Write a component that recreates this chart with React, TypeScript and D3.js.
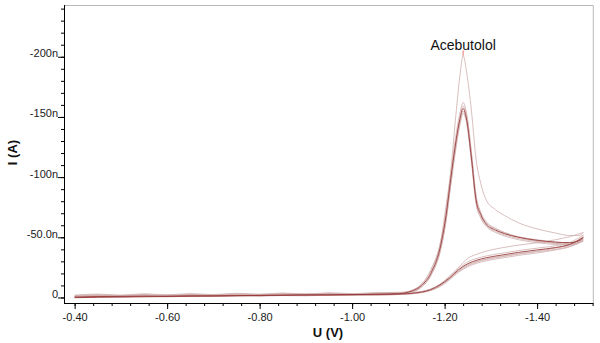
import React, { useRef, useEffect } from "react";
import * as d3 from "d3";

// potential grid (V) for the forward scan and the return scan
const forwardU = [
  -0.40, -0.45, -0.50, -0.55, -0.60, -0.65, -0.70, -0.75, -0.80, -0.85, -0.90, -0.95, -1.00, -1.05, -1.10,
  -1.13, -1.15, -1.17, -1.193, -1.203, -1.213, -1.223, -1.233, -1.240, -1.248, -1.258, -1.268, -1.278,
  -1.29, -1.31, -1.33, -1.36, -1.40, -1.44, -1.47, -1.49, -1.50,
];
const reverseU = [
  -1.50, -1.47, -1.44, -1.40, -1.36, -1.32, -1.29, -1.27, -1.25, -1.23, -1.21, -1.19, -1.17, -1.15, -1.12, -1.08,
  -1.00, -0.95, -0.90, -0.85, -0.80, -0.75, -0.70, -0.65, -0.60, -0.55, -0.50, -0.45, -0.40,
];

// currents (nA), one array per scan and per trace
const trace1Fwd = [
  -1.0, -1.9, -1.2, -2.2, -1.5, -2.3, -1.7, -2.6, -1.9, -2.8, -2.1, -3.0, -2.5, -3.3, -3.6,
  -6, -11, -23, -50, -76, -104, -146, -184, -201, -186, -155, -115, -95,
  -81, -73, -68, -62, -57, -53.5, -51.5, -51.5, -54,
];
const trace1Rev = [
  -54, -50.5, -48, -45.5, -43.5, -41, -38.5, -36, -32.5, -25, -17.5, -11, -7, -5, -3.6, -3.0,
  -2.8, -2.2, -2.9, -2.0, -2.6, -1.7, -2.3, -1.4, -2.0, -1.1, -1.7, -0.8, -1.1,
];
const trace2Fwd = [
  -0.5, -1.3, -0.6, -1.6, -0.9, -1.9, -1.1, -2.1, -1.4, -2.4, -1.7, -2.6, -2.0, -3.0, -3.4,
  -6, -11, -22, -49, -72, -102, -131, -153, -162, -152, -121, -85, -71,
  -63, -57.5, -54, -50.5, -48, -46, -45.5, -48, -52,
];
const trace2Rev = [
  -52, -45.5, -43, -41, -39, -36.5, -34.5, -32.5, -29.5, -24, -17, -11, -7, -4.8, -3.5, -2.9,
  -2.4, -3.0, -2.1, -2.7, -1.8, -2.4, -1.5, -2.1, -1.2, -1.8, -0.9, -1.4, -0.8,
];
const trace3Fwd = [
  -1.5, -2.3, -1.5, -2.5, -1.7, -2.7, -2.0, -3.0, -2.3, -3.3, -2.6, -3.5, -2.9, -3.7, -4.0,
  -5, -9.5, -19, -44, -66, -96, -126, -150, -159, -150, -119, -83, -70,
  -62, -57, -53.5, -50, -47, -45, -44.5, -46, -49,
];
const trace3Rev = [
  -49, -43.5, -41, -38.5, -36.5, -34, -32, -30, -27, -22, -15.5, -10, -6.2, -4.3, -3.0, -2.4,
  -2.0, -2.2, -1.8, -1.9, -1.5, -1.6, -1.2, -1.3, -0.9, -0.9, -0.6, -0.5, -0.5,
];
const trace4Fwd = [
  -0.3, -0.8, -0.9, -1.1, -1.0, -1.4, -1.3, -1.6, -1.7, -1.9, -2.0, -2.2, -2.4, -2.7, -3.2,
  -5.5, -10, -20, -46, -68, -98, -126, -148, -157, -147, -116, -81, -69,
  -61, -56, -53, -50, -47.5, -46, -45.5, -47, -50,
];
const trace4Rev = [
  -50, -44, -41.5, -39.5, -37.5, -35, -33, -31, -28, -23, -16, -10.5, -6.5, -4.5, -3.2, -2.6,
  -2.4, -2.1, -2.2, -1.8, -1.7, -1.4, -1.3, -1.0, -0.9, -0.6, -0.5, -0.2, 0.2,
];
const trace5Fwd = [
  -0.8, -1.5, -0.8, -1.8, -1.2, -2.0, -1.3, -2.3, -1.6, -2.5, -2.0, -2.8, -2.2, -3.1, -3.5,
  -5, -9, -18.5, -43, -64, -94, -122, -145, -155, -145, -114, -79, -67,
  -60, -55, -52, -49, -46.5, -45, -44, -45.5, -48,
];
const trace5Rev = [
  -48, -42.5, -40, -38, -36, -33.5, -31.5, -29.5, -26.5, -21.5, -15, -9.5, -6, -4.2, -2.9, -2.3,
  -1.8, -2.4, -1.6, -2.1, -1.3, -1.8, -1.0, -1.5, -0.7, -1.2, -0.4, -0.9, -0.3,
];
const trace6Fwd = [
  -2.0, -2.8, -2.0, -3.1, -2.2, -3.2, -2.4, -3.5, -2.7, -3.7, -2.9, -3.9, -3.2, -4.0, -4.3,
  -4.5, -8.5, -18, -42, -63, -92, -120, -143, -153, -144, -113, -78, -66,
  -59, -54, -51, -48, -45.5, -44, -43.5, -45, -47,
];
const trace6Rev = [
  -47, -42, -39.5, -37, -35, -32.5, -30.5, -28.5, -25.5, -21, -14.5, -9, -5.8, -4.0, -2.8, -2.2,
  -1.7, -1.9, -1.4, -1.6, -1.1, -1.3, -0.8, -1.0, -0.5, -0.7, -0.2, -0.4, -0.1,
];

const traceColors = ["#cfaeae", "#cfaeae", "#cfaeae", "#9a3a3a", "#cfaeae", "#cfaeae"];

const yTickValues = [0, -50, -100, -150, -200];
const yTickLabels = ["0", "-50.0n", "-100n", "-150n", "-200n"];
const xTickValues = [-0.4, -0.6, -0.8, -1.0, -1.2, -1.4];
const xTickLabels = ["-0.40", "-0.60", "-0.80", "-1.00", "-1.20", "-1.40"];

const peakName = "Acebutolol";
const peakU = -1.240;
const peakI = -201;

const App = () => {
  const canvas = useRef<SVGSVGElement>(null);

  useEffect(() => {
    const width = 600;
    const height = 343;
    const left = 64, right = 593.3, top = 5, bottom = 303.5;
    const font = "'Liberation Sans', Arial, sans-serif";

    const svg = d3.select(canvas.current);
    svg.selectAll("*").remove();
    svg.attr("width", width).attr("height", height);

    const x = d3.scaleLinear().domain([-0.377, -1.5215]).range([left, right]);
    const y = d3.scaleLinear().domain([5, -243]).range([bottom, top]);

    // light frame on top and right
    svg.append("path")
      .attr("d", `M${left},${top + 0.5}H${right}V${bottom}`)
      .attr("fill", "none")
      .attr("stroke", "#b8b8b8");

    // traces
    const traces = [
      [trace1Fwd, trace1Rev], [trace2Fwd, trace2Rev], [trace3Fwd, trace3Rev],
      [trace4Fwd, trace4Rev], [trace5Fwd, trace5Rev], [trace6Fwd, trace6Rev],
    ];
    const line = d3.line<[number, number]>()
      .x(d => x(d[0]))
      .y(d => y(d[1]))
      .curve(d3.curveMonotoneX);

    const order = [0, 1, 2, 4, 5, 3]; // dark one on top
    order.forEach(i => {
      const [fwd, rev] = traces[i];
      const g = svg.append("g")
        .attr("fill", "none")
        .attr("stroke", traceColors[i])
        .attr("stroke-width", i === 3 ? 0.9 : 0.8);
      g.append("path").attr("d", line(forwardU.map((u, k) => [u, fwd[k]]) as [number, number][]));
      g.append("path").attr("d", line(reverseU.map((u, k) => [u, rev[k]]) as [number, number][]));
    });

    // y axis
    const yMinor = d3.range(0, 25).map(i => -i * 10);
    const gyMinor = svg.append("g").attr("transform", `translate(${left},0)`)
      .call(d3.axisLeft(y).tickValues(yMinor).tickSize(3).tickSizeOuter(0).tickFormat(() => ""));
    gyMinor.select(".domain").remove();

    const gy = svg.append("g").attr("transform", `translate(${left},0)`)
      .call(d3.axisLeft(y).tickValues(yTickValues).tickSize(6).tickPadding(0).tickSizeOuter(0)
        .tickFormat((d, i) => yTickLabels[i]));
    gy.select(".domain").attr("d", `M0.5,${top}V${bottom}`);
    gy.selectAll("text").attr("dy", "0").attr("fill", "#1a1a1a")
      .style("font", `11px ${font}`);

    // x axis
    const xMinor = d3.range(0, 29).map(i => -0.4 - i * 0.04);
    const gxMinor = svg.append("g").attr("transform", `translate(0,${bottom - 0.5})`)
      .call(d3.axisBottom(x).tickValues(xMinor).tickSize(3).tickSizeOuter(0).tickFormat(() => ""));
    gxMinor.select(".domain").remove();

    const gx = svg.append("g").attr("transform", `translate(0,${bottom - 0.5})`)
      .call(d3.axisBottom(x).tickValues(xTickValues).tickSize(6).tickPadding(4.5).tickSizeOuter(0)
        .tickFormat((d, i) => xTickLabels[i]));
    gx.select(".domain").attr("d", `M${left},0.5H${right}`);
    gx.selectAll("text").attr("fill", "#1a1a1a").style("font", `11px ${font}`);

    // axis titles
    svg.append("text")
      .attr("x", 328).attr("y", 337)
      .attr("text-anchor", "middle")
      .style("font", `bold 13px ${font}`)
      .attr("fill", "#111")
      .text("U (V)");
    svg.append("text")
      .attr("transform", "translate(17,152.5) rotate(-90)")
      .attr("text-anchor", "middle")
      .style("font", `bold 13px ${font}`)
      .attr("fill", "#111")
      .text("I (A)");

    // peak annotation
    const px = x(peakU);
    svg.append("line")
      .attr("x1", px).attr("x2", px)
      .attr("y1", 50.5).attr("y2", y(peakI))
      .attr("stroke", "#e04a4a").attr("stroke-width", 0.8);
    svg.append("text")
      .attr("x", px).attr("y", 50)
      .attr("text-anchor", "middle")
      .style("font", `14px ${font}`)
      .attr("fill", "#111")
      .text(peakName);
  });

  return (
    <svg ref={canvas} style={{ position: "absolute", left: 0, top: 0, background: "#fff" }}></svg>
  );
};

export default App;
